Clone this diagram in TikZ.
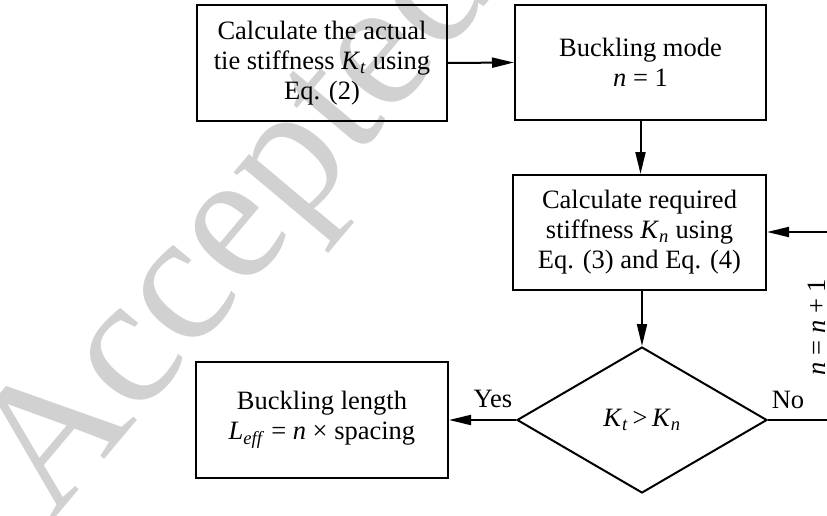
\documentclass[tikz,border=0pt]{standalone}
\usepackage{fontspec}
\setmainfont{Liberation Serif}
\usetikzlibrary{arrows.meta,shapes.geometric}
\tikzset{
  box/.style={draw, line width=2pt, inner sep=0pt, align=center,
    font=\fontsize{26.5}{30}\selectfont},
  dec/.style={draw, diamond, line width=2pt, inner sep=0pt,
    minimum width=250pt, minimum height=146pt,
    font=\fontsize{26.5}{30}\selectfont},
  lbl/.style={inner sep=0pt, font=\fontsize{26.5}{30}\selectfont},
  conn/.style={line width=2pt, -{Triangle[length=22pt,width=10pt]}},
  wmark/.style={text=black!18, inner sep=0pt, font=\fontsize{185}{185}\selectfont}
}
\begin{document}
\begin{tikzpicture}[x=1pt,y=-1pt]
\useasboundingbox (0,0) rectangle (827,516);
% watermark
\node[wmark, rotate=50, anchor=base west] (wm) at (52,522) {Accepted Manuscript};
% boxes
\node[box, minimum width=250pt, minimum height=116pt] (b1) at (322,63)
  {Calculate the actual\\tie stiffness \textit{K}\textsubscript{\textit{t}} using\\Eq. (2)};
\node[box, minimum width=251pt, minimum height=115pt] (b2) at (640.5,62.5)
  {Buckling mode\\\textit{n} = 1};
\node[box, minimum width=253pt, minimum height=115pt] (b3) at (639.5,232.5)
  {Calculate required\\stiffness \textit{K}\textsubscript{\textit{n}} using\\Eq. (3) and Eq. (4)};
\node[dec] (d) at (642,420)
  {\textit{K}\textsubscript{\textit{t}}\,>\,\textit{K}\textsubscript{\textit{n}}};
\node[box, minimum width=252pt, minimum height=116pt] (b4) at (322,420)
  {Buckling length\\\textit{L}\textsubscript{\textit{eff}} = \textit{n} × spacing};
% labels
\node[lbl] (yes) at (493,399) {Yes};
\node[lbl] (no) at (788,400) {No};
\node[lbl, rotate=90, anchor=base] (inc) at (825,327) {\textit{n} = \textit{n} + 1};
% connectors
\coordinate (c1) at (840,420);
\coordinate (c2) at (840,232);
\draw[conn] (b1.east) -- (b2.west);
\draw[conn] (b2.south) -- (b2.south |- b3.north);
\draw[conn] (d.north |- b3.south) -- (d.north);
\draw[conn] (d.west) -- (b4.east);
\draw[conn] (d.east) -- (c1) -- (c2) -- (c2 -| b3.east);
\end{tikzpicture}
\end{document}
